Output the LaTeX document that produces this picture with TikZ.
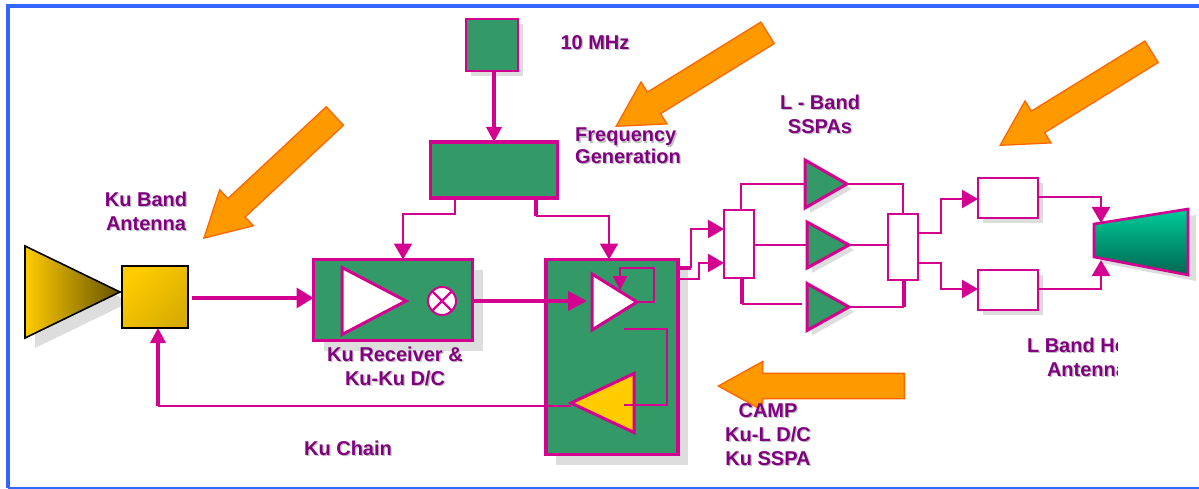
\documentclass[tikz,border=0pt]{standalone}
\usepackage{fontspec}
\setmainfont{Liberation Sans}
\usetikzlibrary{shapes.arrows, shapes.geometric, shadows, arrows.meta}

\definecolor{rf_magenta}{HTML}{D4008F}
\definecolor{rf_green}{HTML}{339966}
\definecolor{rf_purple}{HTML}{800080}
\definecolor{rf_gold}{HTML}{FFCC00}
\definecolor{rf_shadow}{HTML}{DDDDDD}
\definecolor{rf_frame}{HTML}{3366FF}
\definecolor{rf_orange}{HTML}{FF9900}
\definecolor{rf_edge}{HTML}{FF6600}
\definecolor{rf_horn_top}{HTML}{00CC99}
\definecolor{rf_horn_low}{HTML}{006650}

\newcommand{\shtext}[1]{\rlap{\kern1.3pt\raisebox{-1.5pt}{\textcolor{black!25}{#1}}}#1}

\tikzset{
    box_shadow/.style={drop shadow={shadow xshift=#1,shadow yshift=-#1,fill=rf_shadow,opacity=1}},
    block/.style={rectangle, draw=rf_magenta, outer sep=0pt, inner sep=0pt},
    amp/.style={
        isosceles triangle,
        isosceles triangle stretches,
        anchor=apex,
        draw=rf_magenta,
        line width=3pt,
        outer sep=0pt,
        inner sep=0pt
    },
    pointer/.style={
        single arrow,
        anchor=tip,
        draw=rf_edge,
        fill=rf_orange,
        line width=1.3pt,
        inner sep=0pt,
        text height=24pt,
        text depth=0pt,
        text width=0pt,
        minimum width=48pt,
        single arrow head extend=12pt,
        single arrow tip angle=58
    },
    thin_link/.style={draw=rf_magenta, line width=2.2pt},
    thick_link/.style={draw=rf_magenta, line width=3.3pt},
    tip_big/.style={-{Triangle[length=16pt,width=18pt]}},
    label/.style={
        text=rf_purple,
        font=\fontsize{20}{24}\selectfont\bfseries,
        align=center,
        inner sep=0pt
    }
}

\begin{document}
\begin{tikzpicture}[x=1pt, y=-1pt]
    \useasboundingbox (0, 0) rectangle (1199, 489);
    \draw[rf_frame, line width=3.6pt] (1199, 6) -- (8, 6) -- (8, 488);
    \draw[rf_frame, line width=2pt] (8, 488) -- (1199, 488);

    % ku side
    \node (ku_antenna) at (120, 292) [
        amp,
        draw=black,
        line width=1.6pt,
        left color=rf_gold,
        right color=black!60!rf_gold,
        minimum width=92pt,
        minimum height=95pt,
        box_shadow=10pt
    ] {};
    \node (ku_feed) at (155, 297) [
        block,
        draw=black,
        line width=1.6pt,
        left color=rf_gold,
        right color=rf_gold!85!black,
        shading angle=45,
        minimum width=66pt,
        minimum height=62pt,
        box_shadow=1pt
    ] {};
    \node (ku_receiver) at (393, 300) [
        block,
        line width=3.3pt,
        fill=rf_green,
        minimum width=159pt,
        minimum height=81pt,
        box_shadow=10pt
    ] {};
    \node (rx_amp) at (406, 301) [
        amp,
        fill=white,
        minimum width=67pt,
        minimum height=64pt
    ] {};
    \node (rx_mixer) at (442, 301) [
        circle,
        draw=rf_magenta,
        line width=2pt,
        fill=white,
        minimum size=28pt,
        inner sep=0pt,
        outer sep=0pt
    ] {};
    \draw[thin_link] (rx_mixer.45) -- (rx_mixer.225);
    \draw[thin_link] (rx_mixer.135) -- (rx_mixer.315);

    % frequency generation
    \node (ref_source) at (492, 45.5) [
        block,
        line width=2pt,
        fill=rf_green,
        minimum width=52pt,
        minimum height=52pt,
        box_shadow=5pt
    ] {};
    \node (freq_gen) at (494, 170) [
        block,
        line width=3.3pt,
        fill=rf_green,
        minimum width=127pt,
        minimum height=56pt
    ] {};

    % camp
    \node (camp) at (612, 357) [
        block,
        line width=3.3pt,
        fill=rf_green,
        minimum width=132pt,
        minimum height=195pt,
        box_shadow=10pt
    ] {};
    \node (camp_rx) at (637, 302) [
        amp,
        fill=white,
        minimum width=56pt,
        minimum height=45pt
    ] {};
    \node (camp_tx) at (571, 403) [
        amp,
        shape border rotate=180,
        fill=rf_gold,
        minimum width=59pt,
        minimum height=63pt
    ] {};

    % l band
    \node (split_in) at (739, 244) [
        block,
        line width=2pt,
        fill=white,
        minimum width=30pt,
        minimum height=68pt
    ] {};
    \node (split_out) at (903, 247) [
        block,
        line width=2pt,
        fill=white,
        minimum width=30pt,
        minimum height=66pt
    ] {};
    \foreach \name/\xpos/\ypos/\size in {sspa_top/847/184/48, sspa_mid/849/245/46, sspa_low/849/307/47} {
        \node (\name) at (\xpos, \ypos) [
            amp,
            fill=rf_green,
            minimum width=\size pt,
            minimum height=42pt,
            box_shadow=5pt
        ] {};
    }
    \node (filter_top) at (1008, 198) [
        block,
        line width=2pt,
        fill=white,
        minimum width=60pt,
        minimum height=40pt,
        box_shadow=5pt
    ] {};
    \node (filter_low) at (1008, 290) [
        block,
        line width=2pt,
        fill=white,
        minimum width=60pt,
        minimum height=40pt,
        box_shadow=5pt
    ] {};
    \coordinate (horn_a) at (1094, 224);
    \coordinate (horn_b) at (1188, 209);
    \coordinate (horn_c) at (1188, 275);
    \coordinate (horn_d) at (1094, 257);
    \fill[rf_shadow] ([shift={(8, 6)}] horn_a) -- ([shift={(8, 6)}] horn_b) -- ([shift={(8, 6)}] horn_c) -- ([shift={(8, 6)}] horn_d) -- cycle;
    \draw[draw=rf_magenta, line width=2.6pt, top color=rf_horn_top, bottom color=rf_horn_low]
        (horn_a) -- (horn_b) -- (horn_c) -- (horn_d) -- cycle;

    % connectors
    \draw[thick_link, -{Triangle[length=17pt,width=20pt]}] (ku_feed.east) ++(4, 1) -- (ku_receiver.west |- 0, 298);
    \draw[thick_link, -{Triangle[length=19pt,width=19pt]}] (ku_receiver.east |- rx_mixer) -- (587, 0 |- rx_mixer);
    \draw[thick_link, -{Triangle[length=15pt,width=15pt]}] (ref_source.south -| 494, 0) -- (freq_gen.north);
    \draw[thin_link, tip_big] (455, 0 |- freq_gen.south) -- (455, 214) -- (403, 214) -- (403, 0 |- ku_receiver.north);
    \draw[thin_link, tip_big] (536, 216) -- (609, 216) -- (609, 0 |- camp.north);
    \draw[thick_link] (536, 0 |- freq_gen.south) -- (536, 216);
    \draw[thin_link, -{Triangle[length=14pt,width=14pt]}] (camp_rx.apex) -- (654, 0 |- camp_rx.apex) -- (654, 268) -- (620, 268) -- (620, 290);
    \draw[thin_link] (624, 329) -- (667, 329) -- (667, 405) -- (624, 405);
    \draw[thin_link] (camp_tx.apex |- 0, 406) -- (158, 406);
    \draw[thick_link, -{Triangle[length=15pt,width=15pt]}] (158, 406) -- (158, 0 |- ku_feed.south);
    \draw[thick_link] (camp.east |- 0, 268) -- (691, 268);
    \draw[thin_link, tip_big] (691, 268) -- (691, 229) -- (split_in.west |- 0, 229);
    \draw[thin_link, tip_big] (camp.east |- 0, 279) -- (699, 279) -- (699, 263) -- (split_in.west |- 0, 263);
    \draw[thin_link] (741, 0 |- split_in.north) -- (741, 0 |- sspa_top) -- (sspa_top.west);
    \draw[thin_link] (split_in.east |- sspa_mid) -- (sspa_mid.west);
    \draw[thick_link] (742, 0 |- split_in.south) -- (742, 304);
    \draw[thin_link] (742, 304) -- (802, 304);
    \draw[thin_link] (sspa_top.apex) -- (903, 0 |- sspa_top.apex) -- (split_out.north);
    \draw[thin_link] (sspa_mid.apex) -- (split_out.west |- sspa_mid.apex);
    \draw[thin_link] (sspa_low.apex) -- (904, 0 |- sspa_low.apex);
    \draw[thick_link] (904, 0 |- sspa_low.apex) -- (904, 0 |- split_out.south);
    \draw[thin_link, tip_big] (split_out.east |- 0, 233) -- (941, 233) -- (941, 199) -- (filter_top.west |- 0, 199);
    \draw[thin_link, tip_big] (split_out.east |- 0, 263) -- (941, 263) -- (941, 289) -- (filter_low.west |- 0, 289);
    \draw[thin_link, tip_big] (1037, 197) -- (1101, 197) -- (1101, 223);
    \draw[thin_link, tip_big] (1037, 289) -- (1101, 289) -- (1101, 260);

    % pointers
    \node (ku_pointer) at (203, 239) [pointer, minimum height=179pt, rotate=223] {};
    \node (freq_pointer) at (615, 127) [pointer, minimum height=178pt, rotate=211.7] {};
    \node (horn_pointer) at (999, 146) [pointer, minimum height=178pt, rotate=211.7] {};
    \node (camp_pointer) at (717, 386) [pointer, minimum height=186pt, rotate=180] {};

    % labels
    \node (ku_antenna_label) at (146, 212) [label] {\shtext{Ku Band}\\\shtext{Antenna}};
    \node (ku_receiver_label) at (395, 367) [label] {\shtext{Ku Receiver \&}\\\shtext{Ku-Ku D/C}};
    \node (ku_chain_label) at (348, 449) [label] {\shtext{Ku Chain}};
    \node (ref_label) at (595, 43) [label] {\shtext{10 MHz}};
    \node (freq_label) at (575, 146.5) [label, align=left, anchor=west, font=\fontsize{20}{21.5}\selectfont\bfseries] {\shtext{Frequency}\\\shtext{Generation}};
    \node (sspa_label) at (820, 115) [label] {\shtext{L - Band}\\\shtext{SSPAs}};
    \node (camp_label) at (768, 435) [label] {\shtext{CAMP}\\\shtext{Ku-L D/C}\\\shtext{Ku SSPA}};
    \begin{scope}
        \clip (1000, 330) rectangle (1117, 385);
        \node (horn_label) at (1087, 358) [label] {\shtext{L Band Horn}\\\shtext{Antenna}};
    \end{scope}
\end{tikzpicture}
\end{document}
